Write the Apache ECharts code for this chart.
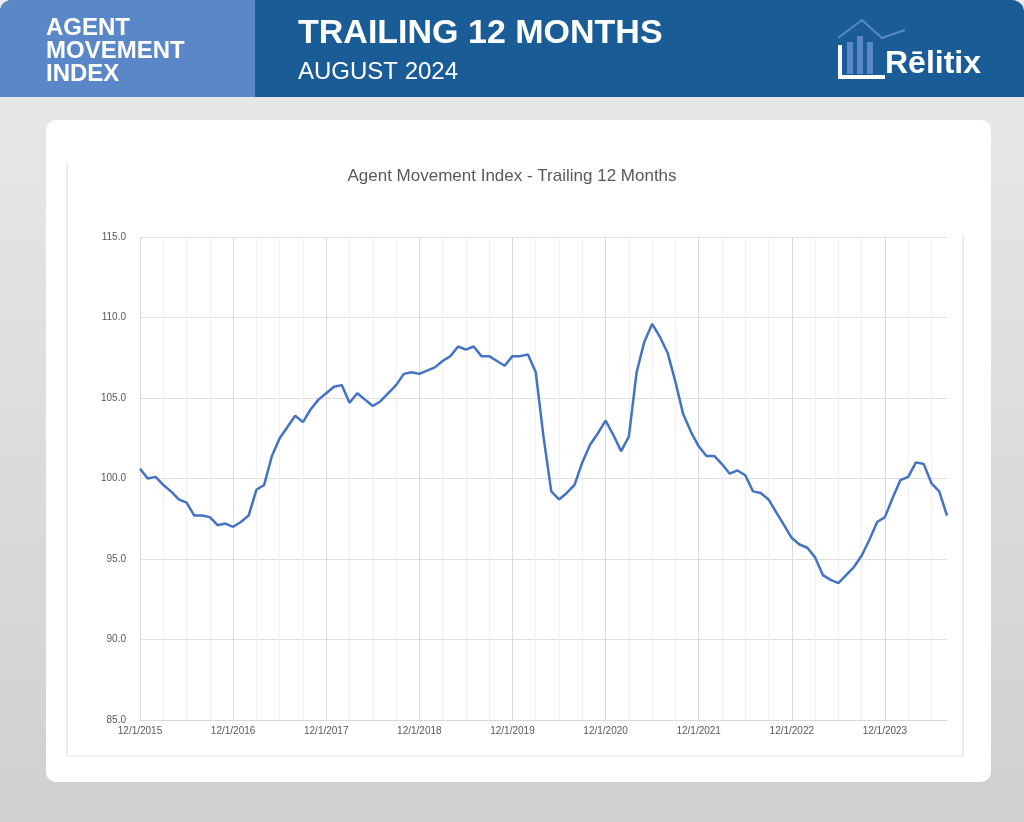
<!DOCTYPE html>
<html><head><meta charset="utf-8">
<script src="https://cdn.jsdelivr.net/npm/echarts@6/dist/echarts.min.js"></script>
<style>html,body{margin:0;padding:0;}#c{width:1024px;height:822px;}</style>
</head><body><div id="c"></div>
<script>
const values = [100.6,100.0,100.1,99.6,99.2,98.7,98.5,97.7,97.7,97.6,97.1,97.2,97.0,97.3,97.7,99.3,99.6,101.4,102.5,103.2,103.9,103.5,104.3,104.9,105.3,105.7,105.8,104.7,105.3,104.9,104.5,104.8,105.3,105.8,106.5,106.6,106.5,106.7,106.9,107.3,107.6,108.2,108.0,108.2,107.6,107.6,107.3,107.0,107.6,107.6,107.7,106.6,102.6,99.2,98.7,99.1,99.6,101.0,102.1,102.8,103.6,102.7,101.7,102.6,106.6,108.5,109.6,108.8,107.8,106.0,104.0,102.9,102.0,101.4,101.4,100.9,100.3,100.5,100.2,99.2,99.1,98.7,97.9,97.1,96.3,95.9,95.7,95.1,94.0,93.7,93.5,94.0,94.5,95.2,96.2,97.3,97.6,98.8,99.9,100.1,101.0,100.9,99.7,99.2,97.7];
const categories = values.map((v,i)=>{const m=(11+i)%12+1, y=2015+Math.floor((11+i)/12);return m+'/1/'+y;});
const yTicks = {min:85,max:115,interval:5};
const chart = echarts.init(document.getElementById('c'));
chart.setOption({
  animation:false,
  backgroundColor:new echarts.graphic.LinearGradient(0,0,0,1,[{offset:0,color:'#e9eaeb'},{offset:1,color:'#cfd0d2'}]),
  graphic:[
    {type:'rect',shape:{x:0,y:0,width:1024,height:97,r:[12,12,0,0]},style:{fill:'#1a5d96'}},
    {type:'rect',shape:{x:0,y:0,width:255,height:97,r:[12,0,0,0]},style:{fill:'#5a87c7'}},
    {type:'text',left:46,top:16,style:{text:'AGENT\nMOVEMENT\nINDEX',fill:'#fff',font:'bold 24px "Liberation Sans Narrow", "Liberation Sans", sans-serif',lineHeight:23}},
    {type:'text',left:298,top:17,style:{text:'TRAILING 12 MONTHS',fill:'#fff',font:'900 34px "Liberation Sans", sans-serif'}},
    {type:'text',left:298,top:60,style:{text:'AUGUST 2024',fill:'#fff',font:'24px "Liberation Sans", sans-serif'}},
    {type:'rect',shape:{x:847,y:42,width:6,height:32},style:{fill:'#5a87c7'}},
    {type:'rect',shape:{x:857,y:36,width:6,height:38},style:{fill:'#5a87c7'}},
    {type:'rect',shape:{x:867,y:42,width:6,height:32},style:{fill:'#5a87c7'}},
    {type:'polyline',shape:{points:[[838,38],[862,20],[882,38],[905,30]]},style:{stroke:'#5a87c7',lineWidth:2,fill:null}},
    {type:'polyline',shape:{points:[[840,45],[840,77],[885,77]]},style:{stroke:'#fff',lineWidth:4,fill:null}},
    {type:'text',left:885,top:48,style:{text:'Rēlitix',fill:'#fff',font:'bold 32px "Liberation Sans Narrow", "Liberation Sans", sans-serif'}},
    {type:'rect',shape:{x:46,y:120,width:945,height:662,r:10},style:{fill:'#fff'}},
    {type:'line',shape:{x1:67,y1:162,x2:67,y2:756},style:{stroke:'#d9d9d9',lineWidth:1}},
    {type:'line',shape:{x1:67,y1:756,x2:963,y2:756},style:{stroke:'#e8e8e8',lineWidth:1}},
    {type:'line',shape:{x1:963,y1:234,x2:963,y2:756},style:{stroke:'#d9d9d9',lineWidth:1}}
  ],
  title:{text:'Agent Movement Index - Trailing 12 Months',left:'center',top:163,textStyle:{color:'#595959',fontSize:17,fontWeight:'normal',fontFamily:'Liberation Sans, sans-serif'}},
  grid:{left:140,right:77,top:237,bottom:102},
  xAxis:[
    {type:'category',data:categories,boundaryGap:false,
     axisLine:{show:true,lineStyle:{color:'#d9d9d9'}},axisTick:{show:false},
     axisLabel:{interval:11,color:'#595959',fontSize:10,fontFamily:'Liberation Sans, sans-serif',margin:6},
     splitLine:{show:true,interval:2,lineStyle:{color:'#f0f0f0'}}},
    {type:'category',data:categories,boundaryGap:false,position:'bottom',
     axisLine:{show:false},axisTick:{show:false},axisLabel:{show:false},
     splitLine:{show:true,interval:11,lineStyle:{color:'#d9d9d9'}}}
  ],
  yAxis:{type:'value',min:yTicks.min,max:yTicks.max,interval:yTicks.interval,
    axisLine:{show:false},axisTick:{show:false},
    axisLabel:{formatter:v=>v.toFixed(1),color:'#595959',fontSize:10,fontFamily:'Liberation Sans, sans-serif',margin:14},
    splitLine:{lineStyle:{color:'#e0e0e0'}}},
  series:[{type:'line',data:values,showSymbol:false,lineStyle:{color:'#4472c4',width:2.5},z:5}]
});
</script></body></html>
